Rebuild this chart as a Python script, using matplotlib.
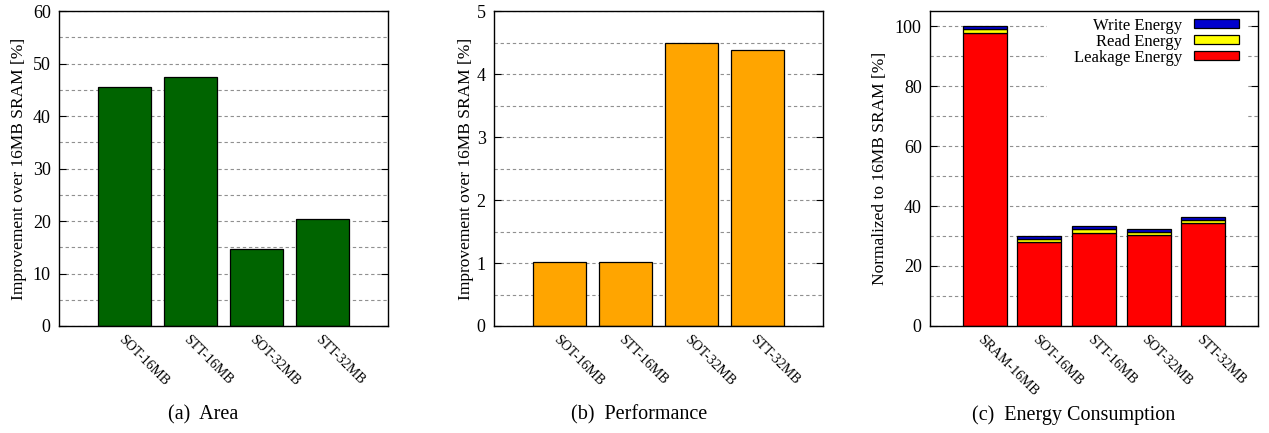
import numpy as np
import matplotlib.pyplot as plt
from matplotlib.ticker import MultipleLocator
from matplotlib.patches import Patch, Rectangle

plt.rcParams['font.family'] = ['Liberation Serif', 'DejaVu Serif']

# data
designs = ["SOT-16MB", "STT-16MB", "SOT-32MB", "STT-32MB"]
area_impr = [45.5, 47.5, 14.7, 20.4]
perf_impr = [1.01, 1.01, 4.49, 4.38]

energy_designs = ["SRAM-16MB", "SOT-16MB", "STT-16MB", "SOT-32MB", "STT-32MB"]
leakage = [97.6, 28.0, 31.0, 30.2, 34.2]
read = [1.3, 1.0, 1.2, 1.2, 1.2]
write = [1.1, 1.1, 1.1, 1.0, 1.0]

W, H = 1269, 433
fig = plt.figure(figsize=(W / 100, H / 100), dpi=100)

grid_kw = dict(color='#909090', linestyle=(0, (3, 2.5)), linewidth=0.8)


def style_axes(ax, major, minor, labels, xmax):
    ax.set_axisbelow(True)
    ax.yaxis.set_major_locator(MultipleLocator(major))
    ax.yaxis.set_minor_locator(MultipleLocator(minor))
    ax.grid(axis='y', which='both', **grid_kw)
    ax.tick_params(axis='y', which='major', direction='in', left=True, right=True,
                   length=5, width=0.8, labelsize=13, pad=6)
    ax.tick_params(axis='y', which='minor', direction='in', left=False, right=False)
    ax.tick_params(axis='x', length=0, pad=5)
    ax.set_xticks(range(len(labels)))
    ax.set_xticklabels(labels, rotation=-45, ha='left', va='top',
                       rotation_mode='anchor', fontsize=10)
    ax.set_xlim(-1, xmax)
    for s in ax.spines.values():
        s.set_linewidth(1.0)


def make_ax(left_px, right_px):
    top, bottom = 11, 326
    return fig.add_axes([left_px / W, 1 - bottom / H, (right_px - left_px) / W, (bottom - top) / H])


# (a) Area
ax1 = make_ax(59, 388)
x = np.arange(len(designs))
ax1.bar(x, area_impr, width=0.8, color='#006400', edgecolor='black', linewidth=0.9)
ax1.set_ylim(0, 60)
style_axes(ax1, 10, 5, designs, 4)
ax1.set_ylabel("Improvement over 16MB SRAM [%]", fontsize=12.5, labelpad=4)

# (b) Performance
ax2 = make_ax(494, 823)
ax2.bar(x, perf_impr, width=0.8, color='#ffa500', edgecolor='black', linewidth=0.9)
ax2.set_ylim(0, 5)
style_axes(ax2, 1, 0.5, designs, 4)
ax2.set_ylabel("Improvement over 16MB SRAM [%]", fontsize=12.5, labelpad=2)

# (c) Energy
ax3 = make_ax(930, 1258)
xe = np.arange(len(energy_designs))
leak = np.array(leakage)
rd = np.array(read)
wr = np.array(write)
ax3.bar(xe, leak, width=0.8, color='#ff0000', edgecolor='black', linewidth=0.9)
ax3.bar(xe, rd, bottom=leak, width=0.8, color='#ffff00', edgecolor='black', linewidth=0.9)
ax3.bar(xe, wr, bottom=leak + rd, width=0.8, color='#0000cc', edgecolor='black', linewidth=0.9)
ax3.set_ylim(0, 105)
style_axes(ax3, 20, 10, energy_designs, 5)
ax3.set_ylabel("Normalized to 16MB SRAM [%]", fontsize=12.5, labelpad=5)

# key box hides the grid behind it
ax3.add_patch(Rectangle((0.357, 0.655), 0.613, 0.345, transform=ax3.transAxes,
                        facecolor='white', edgecolor='none', zorder=1.5))
handles = [Patch(facecolor='#0000cc', edgecolor='black', linewidth=0.9),
           Patch(facecolor='#ffff00', edgecolor='black', linewidth=0.9),
           Patch(facecolor='#ff0000', edgecolor='black', linewidth=0.9)]
leg = ax3.legend(handles, ["Write Energy", "Read Energy", "Leakage Energy"],
                 loc='upper right', bbox_to_anchor=(0.957, 0.995), markerfirst=False,
                 fontsize=12, handlelength=2.7, handleheight=0.5, labelspacing=0.0,
                 handletextpad=0.7, borderaxespad=0.0, borderpad=0.3,
                 fancybox=False, framealpha=1, edgecolor='white')
leg.get_frame().set_linewidth(0)

# captions
fig.text(203 / W, 1 - 415 / H, "(a)  Area", ha='center', va='center', fontsize=14.5)
fig.text(639 / W, 1 - 415 / H, "(b)  Performance", ha='center', va='center', fontsize=14.5)
fig.text(1074 / W, 1 - 415 / H, "(c)  Energy Consumption", ha='center', va='center', fontsize=14.5)

fig.savefig("out.png", dpi=100)
